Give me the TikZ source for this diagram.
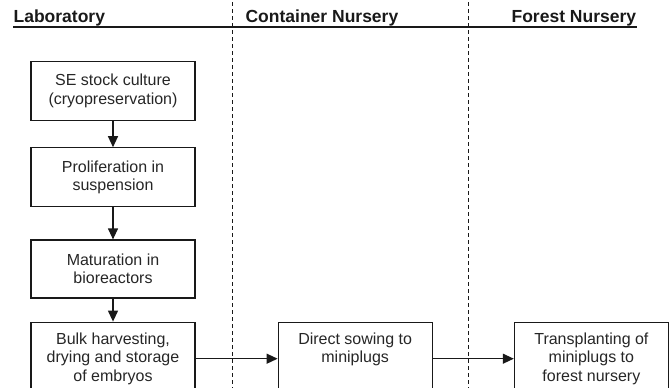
\documentclass[tikz,border=0pt]{standalone}
\usepackage{fontspec}
\setmainfont{Liberation Sans}
\usepackage{tikz}
\usetikzlibrary{arrows.meta,positioning}

\begin{document}
\begin{tikzpicture}[x=1pt,y=-1pt,every path/.style={line width=1.2pt}]
  \tikzstyle{stage} = [draw=black!90,align=center,text=black!85,minimum width=164pt,minimum height=59pt,inner sep=0pt,font=\fontsize{16}{18.5}\selectfont];
  \tikzstyle{head} = [inner sep=0pt,anchor=base west,text=black!90,font=\bfseries\fontsize{17.5}{20}\selectfont];
  \tikzset{flow/.style={draw=black!90,-{Triangle[length=11pt,width=10pt]}}};
  \tikzset{divider/.style={draw=black!90,line width=.9pt,dash pattern=on 4pt off 3pt}};
  \useasboundingbox (0,0) rectangle (670,388);
  % column headings
  \node[head] (lab) at (13,22.5) {Laboratory};
  \node[head] (cont) at (245,22.5) {Container Nursery};
  \node[head] (forest) at (511,22.5) {Forest Nursery};
  \draw[black!90] ([yshift=-4.5pt]lab.base west) -- ([yshift=-4.5pt]forest.base east);
  \coordinate (d1top) at (232.7,2);
  \coordinate (d1bot) at (232.7,388);
  \coordinate (d2top) at (468.3,2);
  \coordinate (d2bot) at (468.3,388);
  \draw[divider] (d1top) -- (d1bot);
  \draw[divider] (d2top) -- (d2bot);
  % laboratory steps
  \node[stage,anchor=north] (se) at (113,61) {SE stock culture\\(cryopreservation)};
  \node[stage,below=26pt of se] (prolif) {Proliferation in\\suspension};
  \node[stage,below=32pt of prolif,minimum height=58pt] (matur) {Maturation in\\bioreactors};
  \node[stage,below=23pt of matur,minimum height=73pt] (bulk) {Bulk harvesting,\\drying and storage\\of embryos};
  % nursery steps
  \node[stage,right=82pt of bulk,minimum width=154pt,minimum height=73pt] (sow) {Direct sowing to\\miniplugs\\\vphantom{y}};
  \node[stage,right=81pt of sow,minimum width=154pt,minimum height=73pt] (trans) {Transplanting of\\miniplugs to\\forest nursery};
  \draw[flow] (se) -- (prolif);
  \draw[flow] (prolif) -- (matur);
  \draw[flow] (matur) -- (bulk);
  \draw[flow] (bulk) -- (sow);
  \draw[flow] (sow) -- (trans);
\end{tikzpicture}
\end{document}
